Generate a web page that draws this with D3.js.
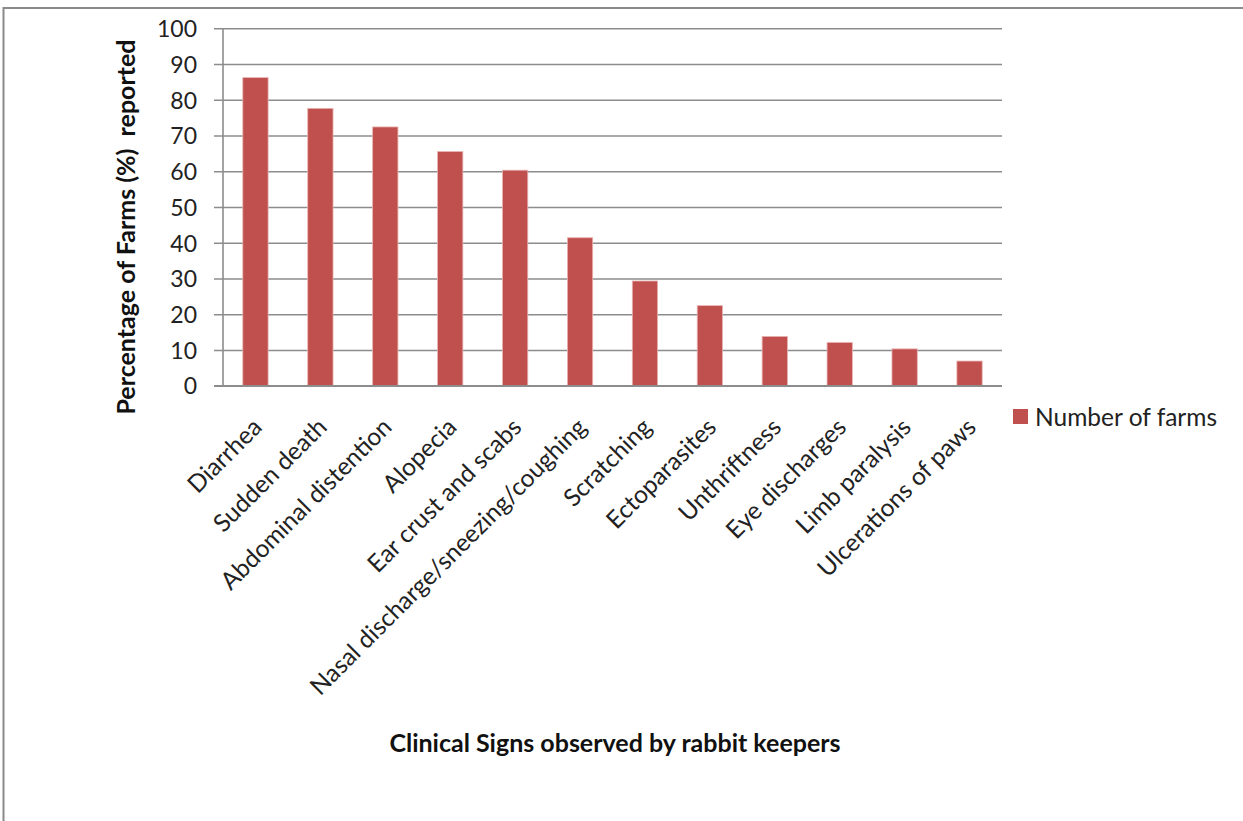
<!DOCTYPE html>
<html>
<head>
<meta charset="utf-8">
<script src="https://cdn.jsdelivr.net/npm/d3@7"></script>
<style>
  html, body { margin: 0; padding: 0; background: #fff; }
  svg { display: block; font-family: Lato, "Open Sans", sans-serif; }
</style>
</head>
<body>
<svg id="chart" width="1243" height="821"></svg>
<script>
// Clinical signs and share of farms reporting each (%)
const categories = [
  "Diarrhea", "Sudden death", "Abdominal distention", "Alopecia",
  "Ear crust and scabs", "Nasal discharge/sneezing/coughing", "Scratching",
  "Ectoparasites", "Unthriftness", "Eye discharges", "Limb paralysis",
  "Ulcerations of paws"
];
const farmPercent = [86.2, 77.6, 72.4, 65.5, 60.3, 41.4, 29.3, 22.4, 13.8, 12.1, 10.3, 6.9];
const yTicks = [0, 10, 20, 30, 40, 50, 60, 70, 80, 90, 100];
const seriesName = "Number of farms";
const xTitle = "Clinical Signs observed by rabbit keepers";
const yTitle = "Percentage of Farms (%)  reported";

const FONT = "Lato, 'Open Sans', sans-serif";
const svg = d3.select("#chart");
const W = 1243, H = 821;
const plot = { left: 223, right: 1002, top: 28.3, bottom: 385.7 };
const barColor = "#C0504D";
const gridColor = "#8c8c8c";

// outer chart frame
svg.append("path")
  .attr("d", `M3.5,${H} L3.5,8 L${W},8`)
  .attr("fill", "none")
  .attr("stroke", "#8a8a8a")
  .attr("stroke-width", 2);

const x = d3.scaleBand()
  .domain(categories)
  .range([plot.left, plot.right])
  .paddingInner(0.61)
  .paddingOuter(0.305);

const y = d3.scaleLinear()
  .domain([0, 100])
  .range([plot.bottom, plot.top]);

// horizontal gridlines with outside tick marks
const yAxis = d3.axisLeft(y)
  .tickValues(yTicks)
  .tickSize(-(plot.right - plot.left))
  .tickSizeOuter(0)
  .tickPadding(26)
  .tickFormat(d3.format("d"));

const gy = svg.append("g")
  .attr("transform", `translate(${plot.left},0)`)
  .call(yAxis)
  .attr("font-family", FONT);
gy.select(".domain").remove();
gy.selectAll(".tick line")
  .attr("x1", -9)
  .attr("stroke", gridColor)
  .attr("stroke-width", 1.6);
gy.selectAll(".tick text")
  .attr("font-size", 23)
  .attr("fill", "#222")
  .attr("dy", "0.36em");

// vertical axis line
svg.append("line")
  .attr("x1", plot.left).attr("x2", plot.left)
  .attr("y1", plot.top).attr("y2", plot.bottom)
  .attr("stroke", gridColor)
  .attr("stroke-width", 1.6);

// bars
svg.append("g")
  .selectAll("rect")
  .data(categories)
  .join("rect")
  .attr("x", d => x(d))
  .attr("width", x.bandwidth())
  .attr("y", (d, i) => y(farmPercent[i]))
  .attr("height", (d, i) => y(0) - y(farmPercent[i]))
  .attr("fill", barColor)
  .attr("stroke", "#e8b4b3")
  .attr("stroke-width", 0.8);

// category axis
const xAxis = d3.axisBottom(x).tickSize(0).tickSizeOuter(0);
const gx = svg.append("g")
  .attr("transform", `translate(0,${plot.bottom})`)
  .call(xAxis)
  .attr("font-family", FONT);
gx.select(".domain")
  .attr("d", `M${plot.left - 9},0 H${plot.right}`)
  .attr("stroke", gridColor)
  .attr("stroke-width", 1.6);
gx.selectAll(".tick text")
  .attr("font-size", 24.5)
  .attr("fill", "#222")
  .attr("text-anchor", "end")
  .attr("dy", 0)
  .attr("y", 0)
  .attr("transform", "translate(8,43) rotate(-45)");

// axis titles
svg.append("text")
  .attr("transform", `translate(135,227) rotate(-90)`)
  .attr("text-anchor", "middle")
  .attr("font-size", 25)
  .attr("font-weight", "bold")
  .attr("fill", "#111")
  .style("white-space", "pre")
  .text(yTitle);

svg.append("text")
  .attr("x", 615)
  .attr("y", 752)
  .attr("text-anchor", "middle")
  .attr("font-size", 25)
  .attr("font-weight", "bold")
  .attr("fill", "#111")
  .text(xTitle);

// legend
const lg = svg.append("g").attr("transform", "translate(1013,409)");
lg.append("rect")
  .attr("width", 15).attr("height", 15)
  .attr("fill", barColor);
lg.append("text")
  .attr("x", 22).attr("y", 8)
  .attr("dy", "0.36em")
  .attr("font-size", 24.5)
  .attr("fill", "#222")
  .text(seriesName);
</script>
</body>
</html>
